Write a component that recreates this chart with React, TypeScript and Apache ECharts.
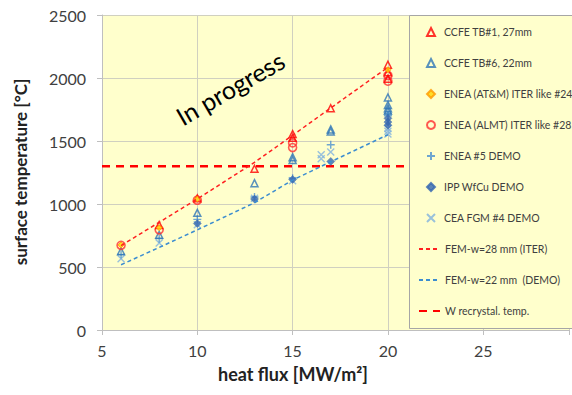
import React, { useEffect, useRef } from "react";
import * as echarts from "echarts";

// heat flux [MW/m²], surface temperature [°C]
const ccfe27: number[][] = [[8, 833], [10, 1045], [13, 1280], [15, 1555], [15, 1525], [17, 1760], [20, 2105], [20, 2045], [20, 1995]];
const ccfe22: number[][] = [[6, 625], [8, 755], [10, 930], [13, 1165], [15, 1372], [15, 1350], [17, 1592], [17, 1575], [20, 1845], [20, 1785], [20, 1760], [20, 1740]];
const eneaATM: number[][] = [[6, 675], [8, 812], [10, 1040], [20, 2065]];
const eneaALMT: number[][] = [[6, 672], [8, 795], [10, 1030], [15, 1485], [15, 1448], [20, 2020], [20, 1975]];
const enea5: number[][] = [[6, 600], [8, 725], [10, 878], [13, 1055], [15, 1205], [17, 1470], [20, 1720], [20, 1700]];
const ipp: number[][] = [[10, 845], [13, 1040], [15, 1195], [17, 1338], [20, 1680], [20, 1650], [20, 1625]];
const cea: number[][] = [[6, 565], [8, 690], [10, 835], [13, 1045], [15, 1185], [16.5, 1390], [16.5, 1360], [17, 1412], [20, 1600], [20, 1578], [20, 1555]];
const fem28: number[][] = [[6, 670], [10, 1040], [13, 1330], [15, 1545], [17, 1762], [20, 2085]];
const fem22: number[][] = [[6, 518], [8, 655], [10, 795], [13, 1010], [15, 1190], [17, 1335], [20, 1550]];
const recryst: number[][] = [[5, 1300], [30, 1300]];

const pointNames = [
  "CCFE TB#1, 27mm",
  "CCFE TB#6, 22mm",
  "ENEA (AT&M) ITER like #24",
  "ENEA (ALMT) ITER like #28",
  "ENEA #5 DEMO",
  "IPP WfCu DEMO",
  "CEA FGM #4 DEMO",
];
const lineNames = ["FEM-w=28 mm (ITER)", "FEM-w=22 mm  (DEMO)", "W recrystal. temp."];

const FONT = "Lato, 'Open Sans', sans-serif";
const PLUS = "path://M4,0L4,8M0,4L8,4";
const CROSS = "path://M0,0L8,8M8,0L0,8";
const CLEAR = "rgba(0,0,0,0)";

export default function App() {
  const ref = useRef<HTMLDivElement>(null);
  useEffect(() => {
    if (!ref.current) return;
    const chart = echarts.init(ref.current, undefined, { renderer: "svg" });
    const legendText = {
      fontSize: 10.5,
      color: "#404040",
      fontFamily: FONT,
      lineHeight: 14,
    };
    chart.setOption({
      animation: false,
      grid: {
        left: 102,
        top: 15,
        right: 0,
        bottom: 65,
        show: true,
        backgroundColor: "#FFFFCC",
        borderWidth: 0,
      },
      xAxis: {
        type: "value",
        min: 5,
        max: 29.5,
        interval: 5,
        axisLine: { show: true, onZero: false, lineStyle: { color: "#bfbfbf" } },
        axisTick: { show: true, length: 5, lineStyle: { color: "#bfbfbf" } },
        axisLabel: {
          fontSize: 16,
          color: "#404040",
          fontFamily: FONT,
          margin: 12,
          formatter: (v: number) => (v % 5 === 0 ? String(v) : ""),
        },
        splitLine: { show: true, lineStyle: { color: "#d0d0c0" } },
      },
      yAxis: {
        type: "value",
        min: 0,
        max: 2500,
        interval: 500,
        axisLine: { show: true, lineStyle: { color: "#bfbfbf" } },
        axisTick: { show: true, length: 5, lineStyle: { color: "#bfbfbf" } },
        axisLabel: {
          fontSize: 16,
          color: "#404040",
          fontFamily: FONT,
          margin: 16,
          formatter: (v: number) => String(v),
        },
        splitLine: { show: true, lineStyle: { color: "#d0d0c0" } },
      },
      legend: [
        {
          orient: "vertical",
          left: 421,
          top: 20,
          itemWidth: 8,
          itemHeight: 8,
          itemGap: 17,
          z: 10,
          data: pointNames,
          textStyle: { ...legendText, padding: [0, 0, 0, 4] },
        },
        {
          orient: "vertical",
          left: 413,
          top: 237,
          itemWidth: 21,
          itemHeight: 8,
          itemGap: 17,
          z: 10,
          data: lineNames,
          itemStyle: { opacity: 0 },
          textStyle: legendText,
        },
      ],
      graphic: [
        {
          type: "rect",
          z: 5,
          shape: { x: 409.5, y: 15.5, width: 170, height: 313 },
          style: { fill: "#FFFFCC", stroke: "#a6a6a6", lineWidth: 1 },
        },
        {
          type: "text",
          z: 6,
          x: 230,
          y: 88,
          rotation: (30 * Math.PI) / 180,
          style: {
            text: "In progress",
            fontSize: 25,
            fontFamily: FONT,
            fill: "#000",
            align: "center",
            verticalAlign: "middle",
          },
        },
        {
          type: "text",
          z: 6,
          x: 20,
          y: 172,
          rotation: Math.PI / 2,
          style: {
            text: "surface temperature [°C]",
            fontSize: 17,
            fontWeight: "bold",
            fontFamily: FONT,
            fill: "#222",
            align: "center",
            verticalAlign: "middle",
          },
        },
        {
          type: "text",
          z: 6,
          x: 293,
          y: 374,
          style: {
            text: "heat flux [MW/m²]",
            fontSize: 18,
            fontWeight: "bold",
            fontFamily: FONT,
            fill: "#222",
            align: "center",
            verticalAlign: "middle",
          },
        },
      ],
      series: [
        {
          name: lineNames[2],
          type: "line",
          data: recryst,
          symbol: "none",
          z: 1,
          lineStyle: { color: "#FF0000", width: 2.5, type: [8, 6] },
          itemStyle: { color: "#FF0000" },
        },
        {
          name: lineNames[0],
          type: "line",
          data: fem28,
          symbol: "none",
          lineStyle: { color: "#FF2020", width: 1.5, type: [4, 3] },
          itemStyle: { color: "#FF2020" },
        },
        {
          name: lineNames[1],
          type: "line",
          data: fem22,
          symbol: "none",
          lineStyle: { color: "#3C8DD0", width: 1.5, type: [4, 3] },
          itemStyle: { color: "#3C8DD0" },
        },
        {
          name: pointNames[6],
          type: "scatter",
          data: cea,
          symbol: CROSS,
          symbolSize: 7,
          itemStyle: { color: CLEAR, borderColor: "#7FB2DE", borderWidth: 1.4 },
        },
        {
          name: pointNames[4],
          type: "scatter",
          data: enea5,
          symbol: PLUS,
          symbolSize: 8,
          itemStyle: { color: CLEAR, borderColor: "#4A90D0", borderWidth: 1.4 },
        },
        {
          name: pointNames[5],
          type: "scatter",
          data: ipp,
          symbol: "diamond",
          symbolSize: 8,
          itemStyle: { color: "#3467B0", borderColor: "#3467B0", borderWidth: 0.5 },
        },
        {
          name: pointNames[1],
          type: "scatter",
          data: ccfe22,
          symbol: "triangle",
          symbolSize: 7,
          itemStyle: { color: CLEAR, borderColor: "#2E75B6", borderWidth: 1.5 },
        },
        {
          name: pointNames[3],
          type: "scatter",
          data: eneaALMT,
          symbol: "circle",
          symbolSize: 8,
          itemStyle: { color: CLEAR, borderColor: "#FF3030", borderWidth: 1.6 },
        },
        {
          name: pointNames[0],
          type: "scatter",
          data: ccfe27,
          symbol: "triangle",
          symbolSize: 7,
          itemStyle: { color: CLEAR, borderColor: "#FF0000", borderWidth: 1.5 },
        },
        {
          name: pointNames[2],
          type: "scatter",
          data: eneaATM,
          symbol: "diamond",
          symbolSize: 6,
          itemStyle: { color: "#FFD400", borderColor: "#FF9900", borderWidth: 1 },
        },
      ],
    });
    return () => chart.dispose();
  }, []);
  return (
    <div
      ref={ref}
      style={{ position: "fixed", left: 0, top: 0, width: 572, height: 395, background: "#fff" }}
    />
  );
}
